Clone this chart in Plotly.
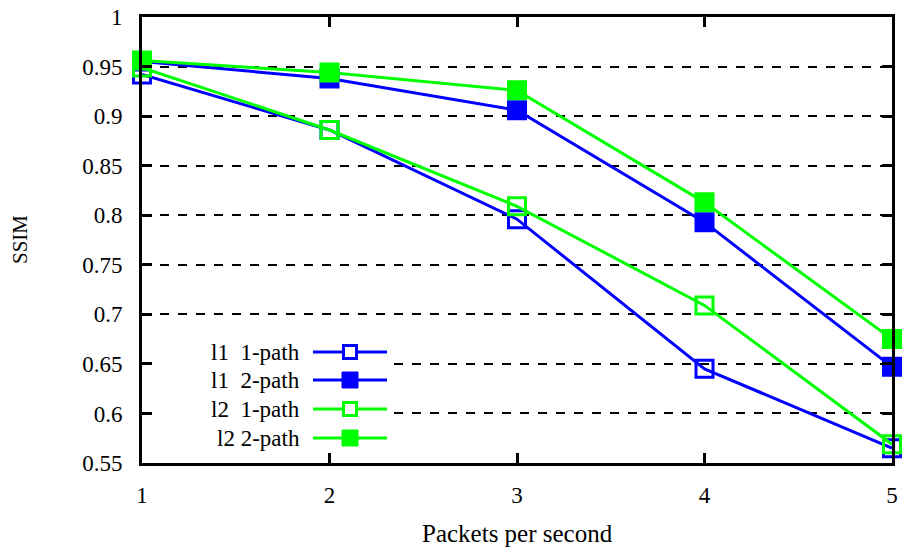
import plotly.graph_objects as go

packets = [1, 2, 3, 4, 5]
l1_1path = [0.942, 0.886, 0.796, 0.645, 0.565]
l1_2path = [0.955, 0.938, 0.906, 0.793, 0.647]
l2_1path = [0.949, 0.886, 0.809, 0.709, 0.569]
l2_2path = [0.956, 0.944, 0.926, 0.813, 0.675]

series_names = ["l1\u00a0 1-path", "l1\u00a0 2-path", "l2\u00a0 1-path", "l2 2-path"]
series_vals = [l1_1path, l1_2path, l2_1path, l2_2path]
colors = ["#0000ff", "#0000ff", "#00ff00", "#00ff00"]
symbols = ["square-open", "square", "square-open", "square"]

y_ticks = [0.55, 0.6, 0.65, 0.7, 0.75, 0.8, 0.85, 0.9, 0.95, 1]
y_tick_text = ["0.55", "0.6", "0.65", "0.7", "0.75", "0.8", "0.85", "0.9", "0.95", "1"]

W, H = 904, 552
ML, MR, MT, MB = 142, 12, 17, 89
PW, PH = W - ML - MR, H - MT - MB

def px(x):
    return (x - ML) / PW

def py(y):
    return (H - MB - y) / PH

FAM = "Liberation Serif"

fig = go.Figure()
for name, vals, c, s in zip(series_names, series_vals, colors, symbols):
    fig.add_trace(go.Scatter(
        x=packets, y=vals, mode="lines+markers", name=name,
        line=dict(color=c, width=3),
        marker=dict(symbol=s, size=17, color=c, line=dict(color=c, width=3)),
        cliponaxis=False, showlegend=False,
    ))

# custom legend (text on left, sample on right, gnuplot style)
rows = [352, 380, 409, 438]
annotations = []
shapes = [dict(type="rect", xref="paper", yref="paper", layer="above",
               x0=px(153), x1=px(392), y0=py(452), y1=py(338),
               fillcolor="white", line=dict(width=0))]
for name, c, s, ry in zip(series_names, colors, symbols, rows):
    annotations.append(dict(
        x=px(302), y=py(ry), xref="paper", yref="paper", text=name,
        showarrow=False, xanchor="right", yanchor="middle",
        font=dict(family=FAM, size=23, color="black"),
    ))
    shapes.append(dict(type="line", xref="paper", yref="paper",
                       x0=px(313), x1=px(387), y0=py(ry), y1=py(ry),
                       line=dict(color=c, width=3)))
    half = 8
    if s == "square":
        shapes.append(dict(type="rect", xref="paper", yref="paper",
                           x0=px(350 - half), x1=px(350 + half),
                           y0=py(ry + half), y1=py(ry - half),
                           fillcolor=c, line=dict(color=c, width=1)))
    else:
        shapes.append(dict(type="rect", xref="paper", yref="paper",
                           x0=px(350 - half + 1.5), x1=px(350 + half - 1.5),
                           y0=py(ry + half - 1.5), y1=py(ry - half + 1.5),
                           fillcolor="white", line=dict(color=c, width=3)))

# axis titles
annotations.append(dict(x=px(517), y=py(533), xref="paper", yref="paper",
                        text="Packets per second", showarrow=False,
                        xanchor="center", yanchor="middle",
                        font=dict(family=FAM, size=25, color="black")))
annotations.append(dict(x=px(20), y=py(240), xref="paper", yref="paper",
                        text="SSIM", showarrow=False, textangle=-90,
                        xanchor="center", yanchor="middle",
                        font=dict(family=FAM, size=21, color="black")))

tickfont = dict(family=FAM, size=23, color="black")
fig.update_layout(
    width=W, height=H,
    margin=dict(l=ML, r=MR, t=MT, b=MB, autoexpand=False),
    plot_bgcolor="white", paper_bgcolor="white",
    font=dict(family=FAM, size=22, color="black"),
    annotations=annotations, shapes=shapes,
    xaxis=dict(
        range=[1, 5], tickvals=packets, ticktext=[str(p) for p in packets],
        showgrid=False, zeroline=False, automargin=False,
        showline=True, linecolor="black", linewidth=3, mirror="ticks",
        ticks="inside", ticklen=10, tickwidth=3, tickcolor="black",
        ticklabelstandoff=9,
        tickfont=tickfont,
    ),
    yaxis=dict(
        range=[0.55, 1], tickvals=y_ticks, ticktext=y_tick_text,
        showgrid=True, gridcolor="black", gridwidth=1.5, griddash="dash",
        zeroline=False, automargin=False,
        showline=True, linecolor="black", linewidth=3, mirror="ticks",
        ticks="inside", ticklen=10, tickwidth=3, tickcolor="black",
        ticklabelstandoff=12,
        tickfont=tickfont,
    ),
)

fig.write_html(
    "out.html",
    config={"displayModeBar": False},
    post_script="document.body.style.margin='0';document.body.style.padding='0';"
                "window.dispatchEvent(new Event('resize'));",
)
